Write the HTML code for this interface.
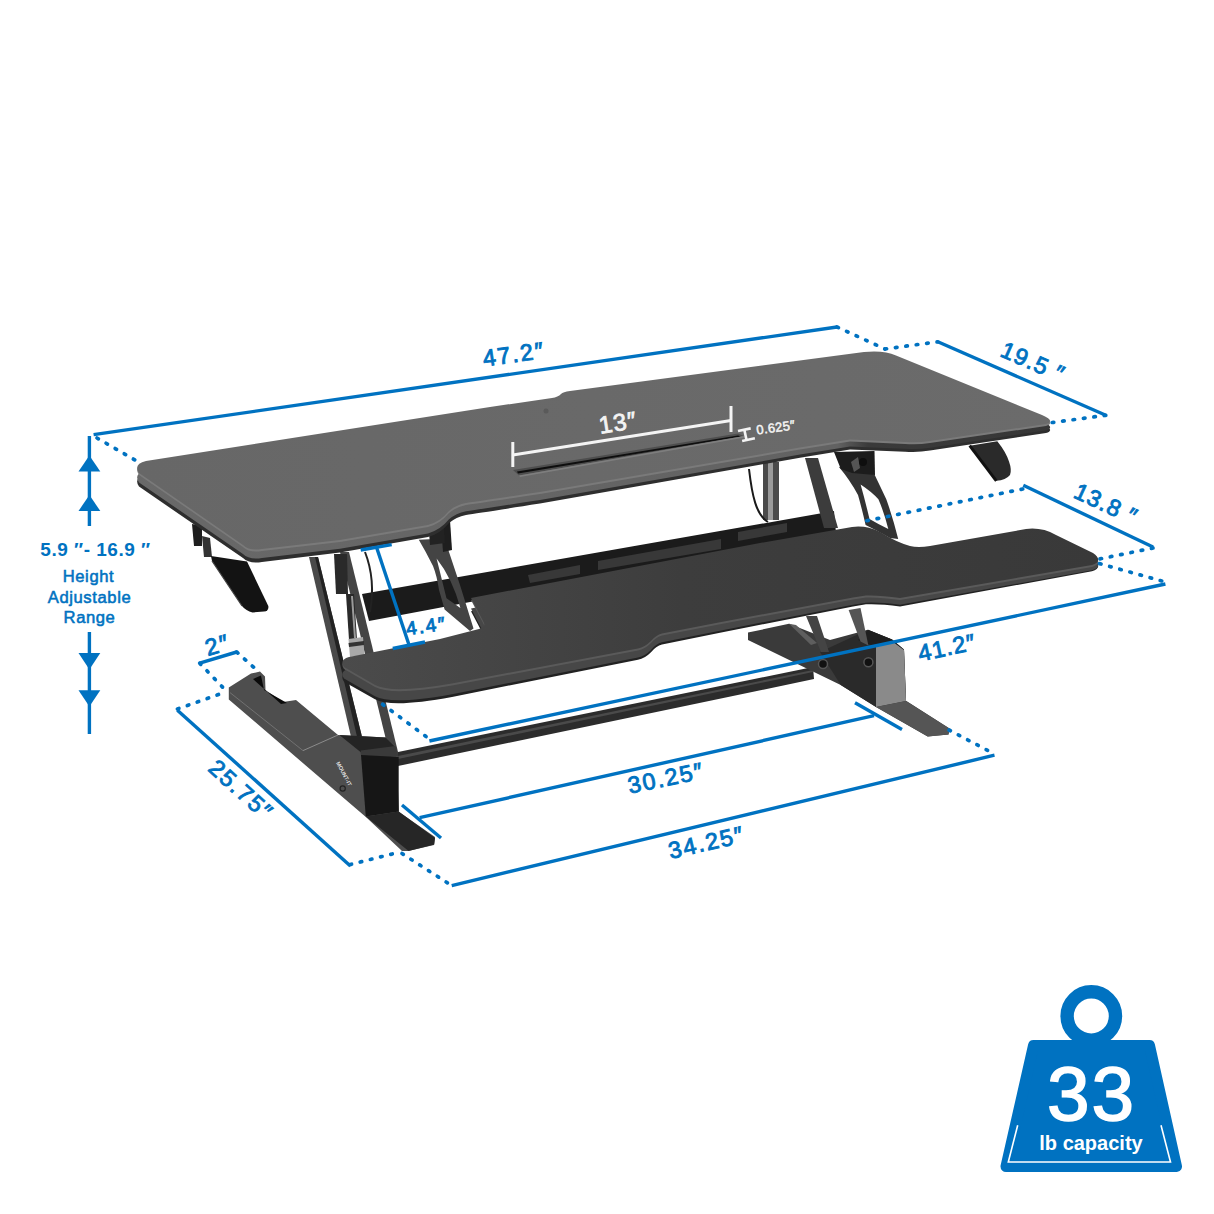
<!DOCTYPE html>
<html><head><meta charset="utf-8">
<style>
html,body{margin:0;padding:0;background:#fff;}
body{width:1214px;height:1214px;overflow:hidden;}
svg{display:block;}
text{font-family:"Liberation Sans",sans-serif;}
</style></head>
<body>
<svg width="1214" height="1214" viewBox="0 0 1214 1214">
<rect width="1214" height="1214" fill="#fff"/>

<!-- ===== DESK ===== -->
<defs>
  <linearGradient id="trayg" x1="0" y1="0" x2="1" y2="0">
    <stop offset="0" stop-color="#4b4b4b"/>
    <stop offset="0.45" stop-color="#3d3d3d"/>
    <stop offset="1" stop-color="#393939"/>
  </linearGradient>
  <linearGradient id="bandg" gradientUnits="userSpaceOnUse" x1="0" y1="0" x2="1214" y2="0">
    <stop offset="0" stop-color="#6a6a6a"/>
    <stop offset="0.69" stop-color="#626262"/>
    <stop offset="0.715" stop-color="#3a3a3a"/>
    <stop offset="1" stop-color="#333"/>
  </linearGradient>
  <linearGradient id="deskg" x1="0" y1="0" x2="1" y2="0">
    <stop offset="0" stop-color="#676767"/>
    <stop offset="1" stop-color="#6b6b6b"/>
  </linearGradient>
  <path id="deskp" d="M139,473 Q133,464 146,461 L490,407 L552,398 Q558,397 561,394 Q563,392 570,391 L864,352 Q884,350 896,355.5 L1042,415 Q1056,421 1046,424 L930,441 Q918,443 905,442 L850,439.5 L800,447.5 L540,492 Q480,501 466,503 Q456,505 449,511 Q440,522 428,525 L340,540 L262,549 Q249,551 243,545 Z"/>
  <path id="trayp" d="M344,667 Q339,660 349,657 L440,639 L479,629 Q487,627 483,621 L471,598 L760,543 L852,527 Q866,525 880,532 Q896,542 910,546 Q918,548 930,546 L1026,529 Q1042,527 1056,535 L1093,553 Q1104,561 1092,565 L900,598 Q880,595 866,595.5 L853,597.5 L720,622.3 L662,633.5 Q656,635 651,641 Q645,647 638,648.5 L452,683.5 Q392,694 375,685 Z"/>
</defs>
<g id="desk">
  <!-- rear channel -->
  <polygon points="362,594 834,511 836,533 369,621" fill="#1b1b1b"/>
  <!-- bumpers -->
  <polygon points="528,575 580,565 580,574 530,583" fill="#383838"/>
  <polygon points="598,561 721,539 721,549 598,570" fill="#383838"/>
  <polygon points="738,532 787,523 787,532 738,541" fill="#383838"/>

  <!-- left upper legs -->
  <polygon points="309,557 318,557 363,741 352,741" fill="#4a4a4a"/>
  <polygon points="315,557 318,557 363,741 358,741" fill="#222"/>
  <polygon points="340,552 349,552 399,756 390,756" fill="#444"/>
  <!-- gas spring left -->
  <polygon points="334,554 347,554 348,594 336,594" fill="#2a2a2a"/>
  <polygon points="346,594 354,594 357,640 349,640" fill="#2a2a2a"/>
  <polygon points="351,596 353,596 356,638 354,638" fill="#9a9a9a"/>
  <polygon points="348.5,639 363,637 364.5,655 350,657" fill="#a8a8a8"/>
  <polygon points="348.5,643 364,641 364,645 349,647" fill="#333"/>
  <path d="M365,552 C372,570 374,590 370,612" stroke="#222" stroke-width="2" fill="none"/>

  <!-- right upper legs -->
  <polygon points="805,458 818,458 838,528 824,528" fill="#3c3c3c"/>
  <!-- gas spring right -->
  <rect x="763" y="462" width="16" height="58" fill="#4a4a4a"/>
  <rect x="768" y="462" width="5" height="58" fill="#9a9a9a"/>
  <path d="M749,469 C752,495 756,515 768,522" stroke="#1a1a1a" stroke-width="2" fill="none"/>

  <!-- rail -->
  <polygon points="398,752 813,667 814,679 398,766" fill="#2c2c2c"/>
  <polygon points="398,756 813,670 813,672 398,759" fill="#4a4a4a"/>
  <!-- right foot -->
  <polygon points="748,632.6 789,623.7 830,640 868,629.7 892,639.5 904,649.4 906,700.8 949.5,728.5 948.5,734.4 927.7,736.4 876,707 840.7,685 748,640" fill="#3a3a3a"/>
  <polygon points="820,652 868,629.7 892,639.5 904,649.4 906,700.8 876,707 840.7,685" fill="#2a2a2a"/>
  <polygon points="789,623.7 796,625 817,643 811,645" fill="#5e5e5e"/>
  <polygon points="876,647 892,641 904,650 906,701 876,707" fill="#8a8a8a"/>
  <polygon points="868,630 892,639.5 904,650 892,641 876,647 858,640" fill="#1e1e1e"/>
  <polygon points="876,707 906,701 949.5,728.5 948.5,734.4 927.7,736.4" fill="#555"/>
  <!-- right lower legs -->
  <polygon points="806,616 817,616 829,652 821,652" fill="#444"/>
  <polygon points="848.6,610 860.5,608 868.4,645.5 860.5,641.5" fill="#555"/>
  <circle cx="823" cy="664" r="4.5" fill="#111" stroke="#555" stroke-width="1.5"/>
  <circle cx="868.4" cy="662.3" r="4.5" fill="#111" stroke="#555" stroke-width="1.5"/>

  <!-- left foot -->
  <polygon points="228.8,687.4 251,673.6 260,671.5 265,676.5 265.5,690 283,702 296,700 338,735 386,737.4 396,747 399,812 435,837 434,845 408,851 402,851 367,818 228.8,699.5" fill="#4e4e4e"/>
  <polygon points="253,679 261,675.5 264,690 287,703 281,704" fill="#0a0a0a"/>
  <line x1="230" y1="692.6" x2="303" y2="750.6" stroke="#7a7a7a" stroke-width="0.8"/>
  <line x1="303" y1="750.6" x2="338" y2="735" stroke="#9a9a9a" stroke-width="0.8"/>
  <polygon points="339.4,735 385.6,737.4 395.5,747.3 360.8,752.3" fill="#242424"/>
  <polygon points="360.8,752.3 398.7,757 398.7,811.6 365.8,816.5" fill="#161616"/>
  <polygon points="360.8,750.5 395.5,746 398.7,757 361,755" fill="#3a3a3a"/>
  <polygon points="365.8,816.5 398.7,811.6 435,838 434.2,844.5 408.6,851" fill="#262626"/>
  <circle cx="342.7" cy="788.5" r="2.6" fill="none" stroke="#222" stroke-width="1.2"/>
  <text x="0" y="0" font-size="5.5" font-weight="bold" fill="#ddd" transform="translate(336,763) rotate(62)">MOUNT-IT</text>

  <!-- keyboard tray -->
  <use href="#trayp" transform="matrix(1,-0.0112,0,1,0,18.5)" fill="#222"/>
  <use href="#trayp" transform="matrix(1,-0.0085,0,1,0,14.5)" fill="#474747"/>
  <use href="#trayp" transform="translate(0,2)" fill="#5a5a5a"/>
  <use href="#trayp" fill="url(#trayg)"/>

  <!-- left bracket -->
  <path d="M418.8,539.8 L446,538.5 L448,549 L460,585 L473.5,628.5 L470,631 L444.6,609.5 L439,590 Q437,576 433,566 Q426,552 418.8,539.8 Z M436.6,558.6 Q452,578 460.4,608 L446.5,598.2 Z" fill="#444" fill-rule="evenodd"/>
  <polygon points="441,524 450,520 452,550 443,552" fill="#1e1e1e"/>
  <polygon points="429,532 444,528 445,543 430,545" fill="#222"/>
  <!-- right bracket -->
  <path d="M838.8,466.7 L874.5,474.6 Q880,486 886.3,499.3 Q893,518 898.2,539 L890,538 Q878,531 865.6,525 Q862,509 858,495 Q850,480 838.8,466.7 Z M860.6,484.5 Q872,492 878.4,499.3 Q884,512 888.3,529 Q878,524 869.5,519 Q865,500 860.6,484.5 Z" fill="#333" fill-rule="evenodd"/>
  <polygon points="834,452 874.5,451 875,475 852,473 840.8,469" fill="#1c1c1c"/>
  <path d="M851,462 L858,457 L860,468 L854,472 Z" fill="#555"/>
  <circle cx="863" cy="462" r="4" fill="#0e0e0e"/>

  <!-- left paddle + bracket -->
  <polygon points="192,524 202,526 202,546 194,546" fill="#1e1e1e"/>
  <polygon points="202,536 210,538 212,557 204,557" fill="#333"/>
  <path d="M211,556 L247,561.6 L268.3,606 Q269,611 264,611.5 L252.5,612.4 Q246,611 242,606 L212,561 Z" fill="#131313"/>
  <path d="M212,561 L242,606" stroke="#444" stroke-width="1.2"/>
  <!-- right paddle -->
  <path d="M969.7,445.7 L997.3,441.2 Q1006,452 1009,461.5 Q1012,470 1010,475 Q1006,480 996.3,480.8 Z" fill="#2a2a2a"/>
  <path d="M969.7,445.7 L996.3,480.8" stroke="#111" stroke-width="3"/>

  <!-- top desk -->
  <use href="#deskp" transform="matrix(1,-0.005,0,1,0,14.25)" fill="#2e2e2e"/>
  <use href="#deskp" transform="matrix(1,-0.0035,0,1,0,9.9)" fill="url(#bandg)"/>
  <use href="#deskp" transform="translate(0,2)" fill="#7a7a7a"/>
  <use href="#deskp" fill="url(#deskg)"/>

  <!-- pencil tray -->
  <polygon points="513,470 738,433.5 744,436 519,475.5" fill="#4e4e4e"/>
  <polygon points="517,471.5 738,435.5 741,436.5 518,473.5" fill="#0e0e0e"/>
  <polygon points="519,475.5 744,436 745,437.5 520,477" fill="#7e7e7e"/>
  <circle cx="546" cy="411" r="2.5" fill="#5a5a5a"/>
</g>

<!-- ===== DIMENSIONS ===== -->
<g stroke="#0072c1" fill="none" stroke-width="3.4">
  <line x1="93.6" y1="434.6" x2="837" y2="327"/>
  <line x1="937.8" y1="341.8" x2="1105.8" y2="415.3"/>
  <line x1="1023.3" y1="485.3" x2="1153" y2="547"/>
  <line x1="429.4" y1="741" x2="1165.4" y2="584"/>
  <line x1="419.6" y1="817.7" x2="874" y2="715.7"/>
  <line x1="855" y1="702.8" x2="902" y2="729.6"/>
  <line x1="402" y1="805" x2="441" y2="838"/>
  <line x1="451.7" y1="885.6" x2="994.5" y2="755.2"/>
  <line x1="177.4" y1="710.2" x2="350.4" y2="865.9"/>
  <line x1="199.7" y1="663.2" x2="236.7" y2="652"/>
  <line x1="376.7" y1="547.8" x2="408.8" y2="644.2"/>
  <line x1="360.7" y1="550" x2="391.7" y2="544.6"/>
  <line x1="392.8" y1="648.5" x2="425" y2="642"/>
  <!-- height -->
  <line x1="89.4" y1="436" x2="89.4" y2="526"/>
  <line x1="89.4" y1="632" x2="89.4" y2="734"/>
</g>
<g fill="#0072c1">
  <polygon points="89.4,455.5 78.5,471.5 100.3,471.5"/>
  <polygon points="89.4,495 78.5,511 100.3,511"/>
  <polygon points="78.5,653 100.3,653 89.4,669.5"/>
  <polygon points="78.5,690.3 100.3,690.3 89.4,706.6"/>
</g>
<g stroke="#0072c1" fill="none" stroke-width="3.7" stroke-linecap="round" stroke-dasharray="1.6 8.9">
  <line x1="97" y1="438" x2="141" y2="463.5"/>
  <line x1="837" y1="327" x2="885" y2="349"/>
  <line x1="885" y1="349" x2="937.8" y2="341.8"/>
  <line x1="1105.8" y1="415.3" x2="1051.5" y2="422.6"/>
  <line x1="1022.7" y1="489" x2="860.6" y2="522"/>
  <line x1="1153" y1="548" x2="1097.4" y2="559.4"/>
  <line x1="1099.5" y1="563.6" x2="1165.4" y2="582"/>
  <line x1="382.6" y1="704.3" x2="428.8" y2="738.6"/>
  <line x1="199.7" y1="663.2" x2="226.8" y2="691.6"/>
  <line x1="236.7" y1="652" x2="259" y2="672"/>
  <line x1="177.4" y1="709" x2="226.8" y2="691.6"/>
  <line x1="350" y1="864.6" x2="400" y2="852"/>
  <line x1="402" y1="853.5" x2="451.7" y2="885.6"/>
  <line x1="949" y1="730" x2="992" y2="752.7"/>
</g>

<!-- labels -->
<g fill="#0072c1" font-size="23.3" stroke="#0072c1" stroke-width="0.9" letter-spacing="1.8">
  <text x="514" y="362.5" text-anchor="middle" transform="rotate(-8 512 356)">47.2″</text>
  <text x="1033" y="370" text-anchor="middle" letter-spacing="1.2" transform="rotate(23.6 1033 362)">19.5 ″</text>
  <text x="1106" y="512" text-anchor="middle" letter-spacing="1.2" transform="rotate(25 1106 504)">13.8 ″</text>
  <text x="947" y="655.5" text-anchor="middle" letter-spacing="1" transform="rotate(-12 947 647.5)">41.2″</text>
  <text x="666" y="786" text-anchor="middle" transform="rotate(-12 666 778)">30.25″</text>
  <text x="706.6" y="850.5" text-anchor="middle" transform="rotate(-13 706.6 843)">34.25″</text>
  <text x="241" y="798" text-anchor="middle" transform="rotate(42 241 790)">25.75″</text>
  <text x="217.5" y="653" text-anchor="middle" transform="rotate(-16 217.5 645)">2″</text>
  <text x="426.5" y="632.5" text-anchor="middle" font-size="19" letter-spacing="2" transform="rotate(-8 426 626.5)">4.4″</text>
</g>
<g fill="#0072c1" text-anchor="middle">
  <text x="95.5" y="556" font-size="19" font-weight="bold" letter-spacing="0.5">5.9 ″- 16.9 ″</text>
  <g stroke="#0072c1" stroke-width="0.55" font-size="16.6" letter-spacing="0.6">
  <text x="88.5" y="582">Height</text>
  <text x="89.5" y="602.5">Adjustable</text>
  <text x="89.5" y="623">Range</text>
  </g>
</g>
<!-- white dims on desk -->
<g stroke="#f4f4f4" stroke-width="3" fill="none">
  <line x1="512.8" y1="455" x2="731" y2="420.5"/>
  <line x1="512.8" y1="442" x2="512.8" y2="467"/>
  <line x1="731" y1="406" x2="731" y2="432"/>
</g>
<g transform="rotate(-12 747 435)" fill="#f4f4f4">
  <rect x="739" y="428" width="13" height="2.6"/>
  <rect x="744.2" y="429" width="2.6" height="11"/>
  <rect x="741" y="438.6" width="13" height="2.6"/>
</g>
<g fill="#f4f4f4" stroke="#f4f4f4">
  <text x="618" y="431" text-anchor="middle" font-size="24" stroke-width="0.8" letter-spacing="1" transform="rotate(-9 617 423)">13″</text>
  <text x="775.5" y="432" text-anchor="middle" font-size="13" stroke-width="0.5" letter-spacing="0.3" transform="rotate(-8 775 426)">0.625″</text>
</g>

<!-- ===== WEIGHT ICON ===== -->
<g fill="#0072c1">
  <circle cx="1091.3" cy="1016" r="24.2" fill="none" stroke="#0072c1" stroke-width="13.4"/>
  <polygon points="1033.5,1045.5 1149.5,1045.5 1176.5,1166.5 1006,1166.5" stroke="#0072c1" stroke-width="11" stroke-linejoin="round"/>
</g>
<polyline points="1017.7,1125.3 1008.3,1162 1170.5,1162 1161,1125.3" fill="none" stroke="#fff" stroke-width="1.6"/>
<text x="1091.5" y="1119.5" text-anchor="middle" font-size="76.5" fill="#fff" stroke="#fff" stroke-width="1.6" letter-spacing="2">33</text>
<text x="1091" y="1150" text-anchor="middle" font-size="20" font-weight="bold" fill="#fff">lb capacity</text>
</svg>
</body></html>
